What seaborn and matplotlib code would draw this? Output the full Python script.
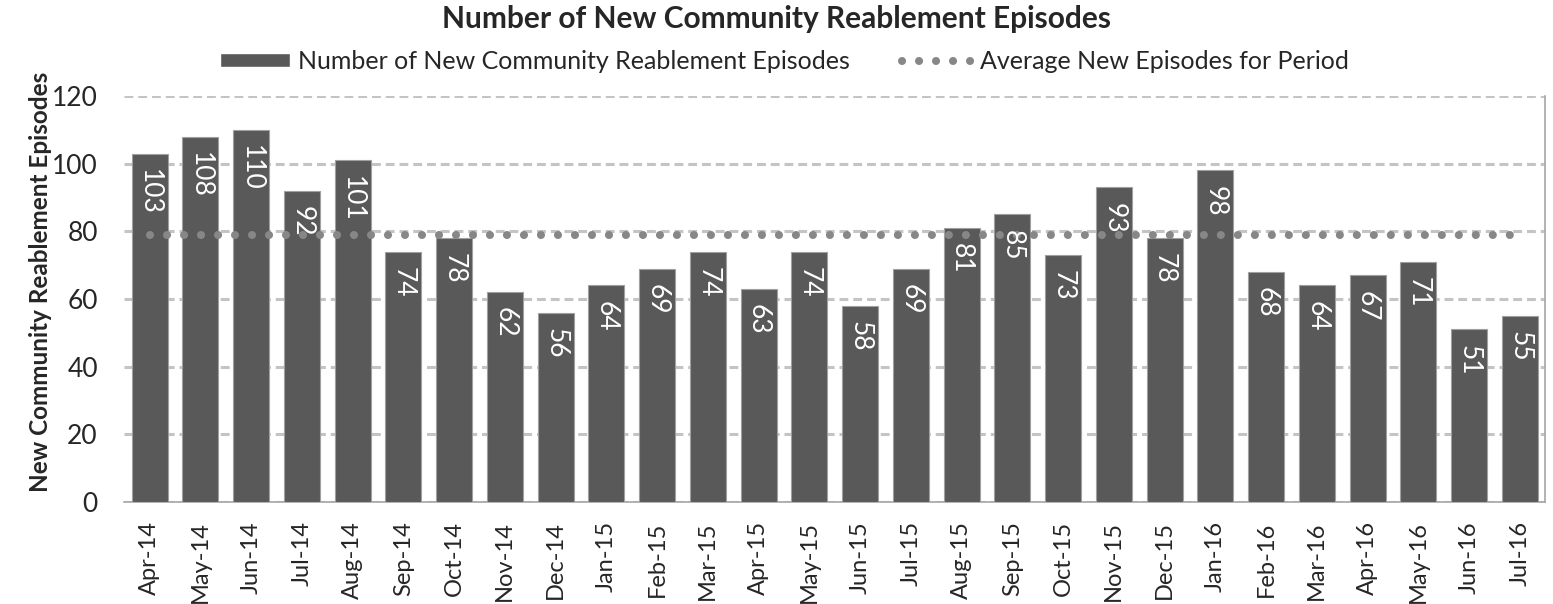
import matplotlib
matplotlib.use("Agg")
import matplotlib.pyplot as plt
import seaborn as sns
import pandas as pd
import numpy as np
from matplotlib.lines import Line2D
from matplotlib.patches import Patch

# data
months = ["Apr-14", "May-14", "Jun-14", "Jul-14", "Aug-14", "Sep-14", "Oct-14",
          "Nov-14", "Dec-14", "Jan-15", "Feb-15", "Mar-15", "Apr-15", "May-15",
          "Jun-15", "Jul-15", "Aug-15", "Sep-15", "Oct-15", "Nov-15", "Dec-15",
          "Jan-16", "Feb-16", "Mar-16", "Apr-16", "May-16", "Jun-16", "Jul-16"]
episodes = [103, 108, 110, 92, 101, 74, 78, 62, 56, 64, 69, 74, 63, 74,
            58, 69, 81, 85, 73, 93, 78, 98, 68, 64, 67, 71, 51, 55]
average_episodes = [79] * len(months)

bar_color = "#595959"
avg_color = "#878787"
dotted = (0, (0.01, 2.1))

sns.set_style("white")
plt.rcParams["font.family"] = ["Lato", "DejaVu Sans"]

df = pd.DataFrame({"month": months, "episodes": episodes, "average": average_episodes})

fig = plt.figure(figsize=(15.53, 6.04), dpi=100)
ax = fig.add_axes([0.080, 0.169, 0.915, 0.672])

sns.barplot(data=df, x="month", y="episodes", color=bar_color, width=0.71,
            saturation=1, edgecolor="#a0a0a0", linewidth=0.8, ax=ax, zorder=3)
ax.plot(np.arange(len(months)), df["average"], color=avg_color, lw=5.8,
        linestyle=dotted, dash_capstyle="round", zorder=4)

# value labels inside the bars
for i, v in enumerate(episodes):
    ax.text(i, v - 4.5, str(v), rotation=270, ha="center", va="top",
            color="white", fontsize=19, zorder=5)

ax.set_ylim(0, 120)
ax.set_xlim(-0.5, len(months) - 0.5)
ax.set_yticks(range(0, 121, 20))
ax.yaxis.grid(True, color="#c4c4c4", linestyle=(0, (2.9, 1.6)), lw=2.2, zorder=0)
ax.set_xlabel("")
ax.set_ylabel("New Community Reablement Episodes", fontsize=17.5, fontweight="bold")
ax.yaxis.set_label_coords(-0.051, 0.542)

ax.tick_params(axis="y", labelsize=19, length=0, pad=19)
ax.tick_params(axis="x", which="major", labelsize=17, length=0, pad=14, labelrotation=90)
ax.set_xticks(np.arange(-0.5, len(months), 1), minor=True)
ax.tick_params(axis="x", which="minor", length=10, width=1.2, color="#a6a6a6", direction="out")

for side in ["top", "left"]:
    ax.spines[side].set_visible(False)
ax.spines["bottom"].set_color("#a6a6a6")
ax.spines["bottom"].set_linewidth(1.2)
ax.spines["right"].set_color("#a6a6a6")
ax.spines["right"].set_linewidth(1.2)

fig.suptitle("Number of New Community Reablement Episodes", fontsize=21.5,
             fontweight="bold", y=0.992)

handles = [Patch(facecolor=bar_color, label="Number of New Community Reablement Episodes"),
           Line2D([0], [0], color=avg_color, lw=5.8, linestyle=dotted,
                  dash_capstyle="round", label="Average New Episodes for Period")]
fig.legend(handles=handles, loc="center", bbox_to_anchor=(0.505, 0.899), ncol=2,
           frameon=False, fontsize=18, handlelength=2.8, handleheight=0.5,
           columnspacing=2.1, handletextpad=0.3)

fig.savefig("out.png", dpi=100)
